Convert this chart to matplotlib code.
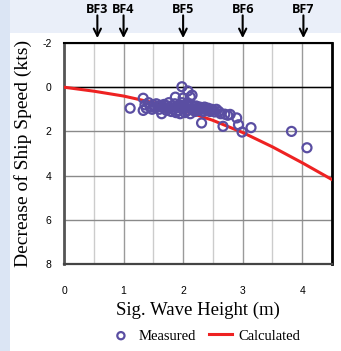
import numpy as np
import matplotlib
matplotlib.use("Agg")
import matplotlib.pyplot as plt

plt.rcParams["axes.unicode_minus"] = False

# measured points (sig. wave height [m], decrease of ship speed [kts])
meas_x = [1.11, 1.33, 1.33, 1.36, 1.38, 1.42, 1.45, 1.48, 1.50, 1.52, 1.55, 1.58,
          1.60, 1.62, 1.64, 1.66, 1.68, 1.70, 1.72, 1.74, 1.76, 1.78, 1.80, 1.82,
          1.84, 1.86, 1.87, 1.88, 1.90, 1.92, 1.94, 1.95, 1.96, 1.98, 1.98, 2.00,
          2.00, 2.02, 2.03, 2.05, 2.06, 2.08, 2.08, 2.10, 2.12, 2.12, 2.14, 2.15,
          2.16, 2.18, 2.20, 2.22, 2.24, 2.26, 2.28, 2.30, 2.31, 2.32, 2.34, 2.36,
          2.38, 2.40, 2.42, 2.45, 2.48, 2.50, 2.53, 2.56, 2.60, 2.63, 2.67, 2.70,
          2.75, 2.79, 2.90, 2.93, 2.99, 3.14, 3.82, 4.08]
meas_y = [0.95, 0.50, 1.05, 0.80, 0.95, 0.70, 0.90, 1.00, 0.80, 0.92, 0.75, 0.88,
          1.00, 0.82, 1.20, 0.92, 0.78, 0.95, 1.05, 0.85, 0.70, 0.95, 1.10, 0.85,
          1.00, 0.75, 0.45, 1.15, 0.90, 1.05, 0.80, 1.20, 0.95, -0.02, 0.70, 0.49,
          1.00, 0.85, 1.15, 0.95, 0.75, 0.17, 1.05, 0.90, 0.44, 1.20, 0.80, 0.36,
          1.00, 0.90, 1.10, 0.85, 0.95, 1.05, 0.90, 1.00, 1.62, 0.95, 1.10, 0.90,
          1.00, 1.05, 0.95, 1.10, 1.00, 1.05, 1.12, 1.00, 1.10, 1.20, 1.77, 1.22,
          1.27, 1.23, 1.39, 1.70, 2.03, 1.83, 2.00, 2.74]

# calculated curve
calc_x = [0.0, 0.5, 1.0, 1.5, 2.0, 2.5, 3.0, 3.5, 4.0, 4.5]
calc_y = [0.0, 0.18, 0.40, 0.70, 1.05, 1.50, 2.05, 2.70, 3.42, 4.18]

bf_labels = ["BF3", "BF4", "BF5", "BF6", "BF7"]
bf_x = [0.56, 1.0, 2.0, 3.0, 4.02]

purple = "#5a4ea2"
red = "#ee2222"

fig = plt.figure(figsize=(3.41, 3.51), dpi=100)

# pale blue background strips (left edge and top band)
bg = fig.add_axes([0, 0, 1, 1], zorder=-10)
W, H = 341, 351
img = np.ones((H, W, 3))
img[:33, :, :] = np.array([0.92, 0.94, 0.98])
img[:, :10, :] = np.array([0.86, 0.90, 0.96])
bg.imshow(img, aspect="auto", extent=[0, 1, 0, 1])
bg.axis("off")

ax = fig.add_axes([64 / W, 87 / H, 268 / W, 221 / H])
ax.set_xlim(0, 4.5)
ax.set_ylim(8, -2)

ax.set_xticks([0, 1, 2, 3, 4])
ax.set_xticks(np.arange(0.5, 4.5, 1.0), minor=True)
ax.set_yticks([-2, 0, 2, 4, 6, 8])
ax.grid(True, which="major", axis="x", color="#9a9a9a", lw=1.0)
ax.grid(True, which="minor", axis="x", color="#cccccc", lw=1.0)
ax.grid(True, which="major", axis="y", color="#8a8a8a", lw=1.0)
ax.axhline(0, color="black", lw=1.0, zorder=1)
ax.set_axisbelow(True)

ax.tick_params(axis="both", which="both", length=0, labelsize=7.5)
ax.tick_params(axis="x", pad=16)
ax.tick_params(axis="y", pad=9)
for lab in ax.get_xticklabels() + ax.get_yticklabels():
    lab.set_fontfamily("Liberation Sans")

ax.spines["left"].set_color("#555555")
ax.spines["left"].set_linewidth(2.0)
ax.spines["bottom"].set_color("#444444")
ax.spines["bottom"].set_linewidth(1.6)
ax.spines["top"].set_color("black")
ax.spines["top"].set_linewidth(1.5)
ax.spines["right"].set_color("black")
ax.spines["right"].set_linewidth(2.0)

ax.plot(calc_x, calc_y, color=red, lw=2.2, zorder=3, label="Calculated")
ax.scatter(meas_x, meas_y, s=42, facecolors="none", edgecolors=purple,
           linewidths=1.6, zorder=4, label="Measured", clip_on=False)

ax.set_xlabel("Sig. Wave Height (m)", family="Liberation Serif", fontsize=13.5,
              labelpad=4)
ax.set_ylabel("Decrease of Ship Speed (kts)", family="Liberation Serif",
              fontsize=14, labelpad=7)

for name, xv in zip(bf_labels, bf_x):
    ax.annotate("", xy=(xv, 1.022), xycoords=("data", "axes fraction"),
                xytext=(xv, 1.125), textcoords=("data", "axes fraction"),
                arrowprops=dict(arrowstyle="->", color="black", lw=1.5,
                                mutation_scale=13, shrinkA=0, shrinkB=0),
                annotation_clip=False)
    ax.text(xv, 1.152, name, transform=ax.get_xaxis_transform(), ha="center",
            va="center", fontsize=9, fontweight="bold", family="Open Sans",
            clip_on=False)

handles, labels = ax.get_legend_handles_labels()
fig.legend(handles[::-1], labels[::-1], loc="center", bbox_to_anchor=(0.6, 0.043),
           ncol=2, frameon=False, prop={"family": "Liberation Serif", "size": 10.5},
           handlelength=1.6, handletextpad=0.4, columnspacing=0.9,
           markerscale=0.8)

fig.savefig("out.png", dpi=100, facecolor="white")
